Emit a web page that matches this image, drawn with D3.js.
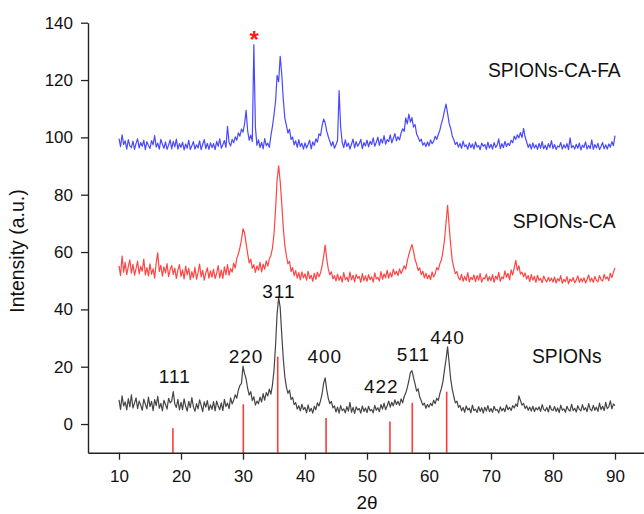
<!DOCTYPE html>
<html>
<head>
<meta charset="utf-8">
<script src="https://cdnjs.cloudflare.com/ajax/libs/d3/7.8.5/d3.min.js"></script>
<style>
	body { margin: 0; background: #fff; }
	text { font-family: Arial, "Liberation Sans", sans-serif; fill: #111; }
</style>
</head>
<body>
<svg width="644" height="514"></svg>
<script>

// 2theta grid of the scans: 10 to 90 deg, 0.25 deg step (one row = 5 deg)
var thetaStart = 10,
	thetaStep = 0.25

// SPIONs (black)
var spions = [
	8.4, 5.1, 9.8, 6.3, 7.7, 4.9, 8.9, 6.0, 10.2, 5.6, 7.3, 9.1, 5.4, 8.0, 6.6, 4.8, 8.7, 6.9, 5.3, 9.4,
	6.1, 7.9, 4.7, 8.5, 6.4, 9.7, 5.5, 7.2, 4.6, 8.3, 6.8, 5.2, 9.0, 7.4, 8.1, 11.3, 7.0, 5.8, 8.6, 4.9,
	7.6, 5.0, 8.8, 6.2, 4.5, 7.9, 5.7, 9.2, 6.0, 4.4, 7.1, 5.3, 8.4, 6.5, 4.3, 7.7, 5.9, 8.2, 4.8, 6.7,
	5.1, 7.8, 4.6, 8.0, 6.3, 5.0, 7.4, 4.7, 8.6, 6.1, 7.3, 5.4, 9.1, 7.0, 8.4, 10.2, 9.0, 11.8, 13.5, 14.1,
	20.2, 17.6, 15.8, 12.4, 10.1, 11.3, 8.2, 9.5, 6.6, 8.0, 7.1, 9.4, 7.7, 10.6, 8.3, 11.0, 9.8, 12.2, 10.4, 13.6,
	18.7, 27.4, 38.5, 44.1, 40.6, 31.2, 22.8, 16.4, 12.9, 10.7, 11.8, 8.6, 9.3, 6.8, 7.5, 5.2, 6.4, 4.6, 6.9, 5.0,
	5.8, 3.9, 6.7, 4.4, 5.5, 3.8, 6.2, 5.0, 7.4, 6.3, 8.1, 10.4, 14.2, 16.1, 12.0, 9.0, 7.1, 7.9, 5.6, 6.3,
	4.2, 5.9, 3.8, 6.4, 4.7, 5.3, 3.9, 6.1, 4.5, 7.6, 4.1, 5.8, 3.7, 6.0, 4.9, 5.4, 3.8, 6.3, 4.4, 5.6,
	4.0, 6.2, 4.6, 5.1, 3.9, 6.5, 4.8, 5.7, 4.3, 6.8, 5.2, 7.3, 5.0, 6.4, 8.0, 5.9, 7.6, 6.3, 8.4, 6.8,
	7.9, 6.5, 8.8, 7.4, 9.6, 10.8, 12.7, 15.1, 17.9, 18.6, 16.2, 14.0, 11.5, 12.3, 9.4, 8.1, 6.6, 7.3, 5.5, 6.8,
	5.9, 7.2, 6.4, 8.3, 7.1, 9.0, 8.2, 10.6, 12.4, 14.8, 18.9, 22.6, 26.9, 21.3, 15.7, 12.1, 9.6, 7.4, 8.0, 5.8,
	6.5, 4.6, 5.8, 4.1, 6.3, 4.9, 5.5, 3.9, 6.6, 4.7, 5.2, 4.0, 6.1, 4.4, 5.7, 3.8, 5.9, 4.5, 6.4, 4.3,
	5.4, 4.1, 6.2, 4.8, 5.1, 3.9, 6.0, 4.6, 5.5, 4.3, 6.7, 5.0, 5.8, 4.7, 6.4, 5.6, 7.0, 6.1, 9.8, 8.2,
	6.6, 7.2, 5.4, 6.3, 4.8, 5.9, 4.5, 6.2, 4.3, 5.7, 4.9, 6.0, 4.4, 6.8, 5.1, 4.6, 5.8, 4.2, 6.5, 5.0,
	4.7, 6.1, 4.4, 5.6, 4.0, 6.6, 4.8, 5.3, 4.1, 6.2, 5.0, 4.5, 6.9, 4.7, 5.5, 4.2, 6.4, 5.1, 4.6, 6.8,
	4.9, 5.7, 4.3, 7.1, 5.2, 4.6, 6.5, 4.8, 5.9, 4.4, 7.3, 5.0, 6.2, 4.7, 7.6, 5.4, 6.0, 8.1, 5.3, 7.0,
	6.4
]

// SPIONs-CA (red)
var spionsCA = [
	55.2, 51.8, 58.6, 53.0, 56.4, 52.1, 54.9, 57.3, 52.6, 55.7, 51.9, 54.2, 56.8, 52.4, 55.0, 53.3, 57.5, 52.0, 54.6, 51.7,
	55.9, 52.3, 54.1, 50.9, 56.2, 59.7, 53.2, 55.4, 51.6, 54.8, 52.7, 56.0, 51.4, 53.9, 55.3, 52.2, 54.4, 50.8, 53.7, 55.6,
	51.5, 53.8, 50.6, 55.1, 52.0, 54.3, 50.4, 53.2, 51.1, 54.7, 50.5, 52.9, 55.8, 51.3, 53.6, 50.2, 52.7, 54.5, 50.9, 53.4,
	51.2, 54.0, 50.7, 52.6, 55.3, 51.0, 53.7, 50.8, 54.8, 52.1, 55.6, 51.9, 54.2, 53.0, 56.1, 54.4, 57.8, 59.3, 61.5, 64.2,
	68.1, 66.7, 63.0, 59.4, 56.2, 57.5, 54.3, 55.6, 52.9, 55.2, 53.7, 56.4, 53.1, 55.8, 54.0, 56.9, 55.1, 57.6, 58.8, 61.4,
	66.3, 74.8, 85.2, 90.1, 84.6, 76.9, 68.4, 62.3, 58.7, 55.9, 56.8, 53.2, 54.6, 51.8, 53.5, 50.9, 52.8, 50.3, 53.1, 51.0,
	52.4, 50.2, 53.3, 50.7, 51.9, 49.8, 52.6, 50.5, 53.0, 51.4, 52.7, 55.1, 58.3, 62.4, 57.6, 54.2, 52.0, 53.1, 50.6, 51.8,
	49.9, 52.3, 50.1, 51.6, 49.5, 52.8, 50.4, 51.2, 49.7, 53.0, 50.3, 51.9, 49.6, 52.2, 50.8, 51.5, 49.4, 52.5, 50.0, 51.7,
	49.8, 52.1, 50.3, 51.4, 49.5, 52.7, 50.6, 51.1, 49.9, 53.2, 50.5, 52.4, 51.0, 53.6, 50.9, 52.8, 51.3, 54.0, 52.2, 53.3,
	51.8, 54.1, 52.5, 53.7, 55.2, 54.0, 56.9, 59.2, 61.0, 62.6, 60.3, 57.4, 55.8, 53.6, 54.5, 52.1, 53.3, 51.0, 52.6, 50.7,
	52.0, 50.4, 53.1, 51.3, 52.4, 54.6, 53.8, 55.9, 57.2, 60.1, 64.3, 70.2, 76.3, 69.0, 62.4, 57.1, 54.6, 52.5, 53.2, 51.1,
	50.3, 52.2, 49.8, 51.5, 50.1, 52.8, 49.6, 51.2, 50.4, 52.0, 49.7, 51.8, 50.2, 52.5, 49.5, 51.0, 50.6, 52.3, 49.9, 51.4,
	50.0, 52.1, 49.4, 51.6, 50.5, 52.9, 49.8, 51.3, 50.7, 53.4, 51.2, 52.6, 50.3, 53.8, 52.0, 54.5, 57.1, 53.6, 55.2, 52.3,
	53.0, 51.4, 52.7, 50.6, 51.8, 49.7, 52.1, 50.2, 51.5, 49.4, 51.9, 50.1, 50.8, 49.3, 51.6, 50.4, 49.6, 51.2, 49.8, 50.9,
	49.5, 51.3, 49.2, 50.7, 49.9, 51.8, 49.1, 50.5, 49.7, 51.4, 48.9, 50.6, 49.8, 51.1, 49.3, 50.2, 51.7, 49.4, 50.8, 49.6,
	51.0, 49.2, 50.5, 52.0, 49.7, 50.9, 49.4, 51.5, 50.1, 49.6, 51.8, 50.3, 49.9, 52.2, 50.6, 51.3, 50.0, 52.6, 51.1, 53.0,
	54.4
]

// SPIONs-CA-FA (blue)
var spionsCAFA = [
	99.6, 96.8, 100.9, 97.5, 98.8, 95.9, 99.2, 97.0, 96.4, 98.7, 95.8, 97.9, 99.5, 96.3, 98.2, 96.9, 99.0, 95.7, 98.5, 97.2,
	96.1, 98.9, 97.4, 100.6, 96.6, 98.0, 95.9, 99.3, 97.6, 96.2, 98.4, 95.8, 97.3, 99.1, 96.0, 98.6, 96.7, 99.4, 95.9, 97.8,
	96.5, 98.3, 95.6, 97.7, 96.2, 99.0, 95.8, 97.1, 98.5, 95.9, 97.4, 96.3, 98.8, 95.7, 97.6, 99.2, 96.1, 97.9, 95.8, 98.1,
	96.4, 97.8, 95.7, 98.6, 96.9, 99.5, 96.2, 97.4, 98.9, 96.5, 103.8, 98.2, 97.0, 99.3, 98.1, 100.2, 99.0, 101.6, 100.4, 102.9,
	101.8, 104.6, 109.4, 102.3, 99.0, 100.8, 98.6, 132.4, 103.5, 97.2, 99.1, 96.4, 98.3, 96.0, 99.6, 97.1, 98.0, 96.5, 100.6, 103.8,
	107.9, 112.5, 121.6, 119.4, 128.3, 122.0, 113.1, 106.7, 104.2, 101.5, 102.8, 99.3, 100.1, 97.4, 98.8, 96.5, 99.2, 96.8, 97.9, 95.9,
	98.1, 96.3, 97.6, 99.0, 96.0, 98.4, 97.2, 99.5, 98.3, 101.2, 100.6, 103.9, 106.4, 105.1, 102.2, 100.3, 98.7, 97.0, 98.5, 96.2,
	97.4, 99.0, 116.3, 103.6, 98.2, 96.4, 99.1, 96.8, 98.0, 95.9, 97.7, 99.4, 96.3, 98.5, 96.9, 97.8, 99.3, 96.1, 98.2, 97.0,
	99.0, 96.7, 98.6, 97.5, 99.8, 96.9, 98.3, 100.1, 97.2, 99.4, 98.0, 100.6, 97.6, 99.2, 98.5, 100.9, 98.1, 99.7, 101.3, 98.8,
	100.2, 99.1, 101.5, 103.0, 102.1, 106.8, 104.7, 108.1, 105.3, 106.9, 103.6, 104.5, 101.2, 100.0, 98.6, 99.4, 97.3, 98.1, 96.8, 98.4,
	97.0, 99.1, 97.8, 98.6, 100.4, 99.3, 101.0, 102.5, 104.8, 106.7, 109.3, 111.6, 108.4, 104.9, 103.1, 100.5, 99.2, 97.5, 98.3, 96.6,
	97.9, 96.2, 98.7, 96.8, 97.4, 95.8, 98.1, 96.4, 97.7, 95.9, 98.4, 96.6, 97.2, 95.7, 98.0, 96.9, 97.5, 95.8, 98.3, 96.3,
	97.6, 95.9, 98.2, 96.5, 97.3, 99.5, 96.1, 97.8, 96.4, 98.6, 96.8, 97.9, 97.2, 99.0, 98.1, 100.4, 99.3, 100.9, 99.8, 101.7,
	99.9, 103.1, 100.2, 98.4, 96.5, 97.7, 95.9, 98.1, 96.3, 97.4, 95.8, 97.9, 96.2, 98.5, 96.0, 97.3, 95.7, 97.8, 96.4, 98.9,
	96.1, 97.5, 95.8, 97.0, 96.6, 98.2, 95.9, 97.4, 96.3, 97.8, 95.7, 99.8, 96.4, 97.1, 95.9, 97.6, 96.2, 98.0, 95.6, 97.3,
	96.5, 98.4, 95.9, 97.2, 96.1, 99.1, 95.8, 97.5, 96.3, 97.9, 95.7, 96.8, 98.2, 96.0, 97.4, 95.9, 97.7, 96.6, 98.5, 97.1,
	100.6
]

// reference pattern (red sticks)
var refTheta = [18.7, 30.05, 35.6, 43.4, 53.7, 57.3, 62.85]
var refHeight = [-1.5, 6.9, 23.5, 2.1, 0.9, 7.4, 11.3]

// hkl labels
var hkl = ["111", "220", "311", "400", "422", "511", "440"]
var hklTheta = [19.0, 30.5, 35.8, 43.2, 52.3, 57.5, 63.0]
var hklY = [14.2, 21.4, 44.0, 21.4, 10.7, 22.0, 27.9]

var seriesNames = ["SPIONs", "SPIONs-CA", "SPIONs-CA-FA"]
var seriesColors = ["#111111", "#ff1010", "#1515ff"]
var nameTheta = [76.6, 73.5, 69.5]
var nameY = [21.4, 68.3, 121.2]

var xTicks = [10, 20, 30, 40, 50, 60, 70, 80, 90]
var yTicks = [0, 20, 40, 60, 80, 100, 120, 140]

var svg = d3.select("svg")

var xScale = d3.scaleLinear().domain([5, 95]).range([88, 646])
var yScale = d3.scaleLinear().domain([-10, 140]).range([452.7, 22.7])

var line = d3.line()
	.x(function (d, i) { return xScale(thetaStart + i * thetaStep) })
	.y(function (d) { return yScale(d) })

// reference sticks
svg.append("g").selectAll("line")
	.data(refTheta)
	.enter().append("line")
	.attr("x1", function (d) { return xScale(d) })
	.attr("x2", function (d) { return xScale(d) })
	.attr("y1", yScale(-10))
	.attr("y2", function (d, i) { return yScale(refHeight[i]) })
	.attr("stroke", "#ff3a3a")
	.attr("stroke-width", 1.6)

// scans
var scans = [spions, spionsCA, spionsCAFA]
svg.append("g").selectAll("path")
	.data(scans)
	.enter().append("path")
	.attr("d", line)
	.attr("fill", "none")
	.attr("stroke", function (d, i) { return seriesColors[i] })
	.attr("stroke-width", 1.2)
	.attr("stroke-opacity", 0.78)
	.attr("stroke-linejoin", "round")

// axes
var xAxis = svg.append("g")
	.attr("transform", "translate(0," + yScale(-10) + ")")
	.call(d3.axisBottom(xScale).tickValues(xTicks).tickSize(7).tickPadding(10).tickSizeOuter(0))
var yAxis = svg.append("g")
	.attr("transform", "translate(" + xScale(5) + ",0)")
	.call(d3.axisLeft(yScale).tickValues(yTicks).tickSize(7).tickPadding(8).tickSizeOuter(0))

svg.selectAll(".domain").attr("stroke", "#222").attr("stroke-width", 1.4)
svg.selectAll(".tick line").attr("stroke", "#222").attr("stroke-width", 1.3)
svg.selectAll(".tick text").attr("font-size", "17px").attr("fill", "#111")
	.attr("font-family", "Arial, 'Liberation Sans', sans-serif")

// axis titles
svg.append("text")
	.attr("x", xScale(50))
	.attr("y", 509)
	.attr("text-anchor", "middle")
	.attr("font-size", "19px")
	.text("2θ")

svg.append("text")
	.attr("transform", "translate(24," + 251 + ") rotate(-90)")
	.attr("text-anchor", "middle")
	.attr("font-size", "19.5px")
	.text("Intensity (a.u.)")

// hkl
svg.append("g").selectAll("text")
	.data(hkl)
	.enter().append("text")
	.attr("x", function (d, i) { return xScale(hklTheta[i]) })
	.attr("y", function (d, i) { return yScale(hklY[i]) })
	.attr("text-anchor", "middle")
	.attr("font-size", "19px")
	.attr("letter-spacing", "1px")
	.text(function (d) { return d })

// sample names
svg.append("g").selectAll("text")
	.data(seriesNames)
	.enter().append("text")
	.attr("x", function (d, i) { return xScale(nameTheta[i]) })
	.attr("y", function (d, i) { return yScale(nameY[i]) })
	.attr("font-size", "19.3px")
	.text(function (d) { return d })

// impurity mark
svg.append("text")
	.attr("x", xScale(31.8))
	.attr("y", yScale(131.3))
	.attr("text-anchor", "middle")
	.attr("font-size", "24px")
	.attr("font-weight", "bold")
	.style("fill", "#ff1a1a")
	.text("*")

</script>
</body>
</html>
